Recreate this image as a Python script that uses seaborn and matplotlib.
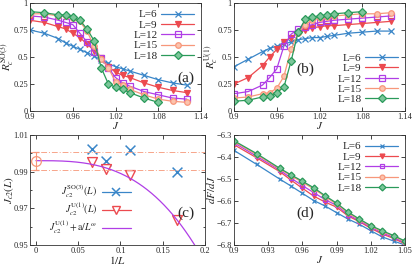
import numpy as np
import pandas as pd
import matplotlib
matplotlib.use("Agg")
import matplotlib.pyplot as plt
from matplotlib.lines import Line2D
from matplotlib.ticker import MultipleLocator
import seaborn as sns

# ---- data ----
J_AB = [0.90, 0.92, 0.94, 0.95, 0.96, 0.97, 0.98, 0.99, 1.00, 1.01, 1.02, 1.03, 1.04, 1.06, 1.08, 1.10, 1.12]

rso3_L6 = [0.75, 0.72, 0.67, 0.63, 0.60, 0.57, 0.54, 0.51, 0.47, 0.44, 0.41, 0.39, 0.37, 0.33, 0.29, 0.26, 0.24]
rso3_L9 = [0.84, 0.82, 0.78, 0.76, 0.72, 0.68, 0.62, 0.56, 0.49, 0.41, 0.36, 0.33, 0.31, 0.26, 0.22, 0.19, 0.17]
rso3_L12 = [0.88, 0.87, 0.84, 0.82, 0.80, 0.72, 0.64, 0.55, 0.49, 0.40, 0.31, 0.26, 0.23, 0.18, 0.15, 0.12, 0.11]
rso3_L15 = [0.90, 0.90, 0.88, 0.88, 0.86, 0.83, 0.74, 0.60, 0.48, 0.40, 0.27, 0.24, 0.20, 0.15, 0.11, 0.09, 0.08]
rso3_L18 = [0.92, 0.91, 0.89, 0.89, 0.87, 0.84, 0.76, 0.65, 0.40, 0.25, 0.22, 0.20, 0.17, 0.12, 0.08]

ru1_L6 = [0.41, 0.48, 0.55, 0.58, 0.60, 0.62, 0.64, 0.66, 0.67, 0.68, 0.68, 0.69, 0.70, 0.72, 0.73, 0.74, 0.74]
ru1_L9 = [0.25, 0.31, 0.42, 0.50, 0.57, 0.64, 0.68, 0.72, 0.75, 0.77, 0.78, 0.79, 0.79, 0.80, 0.81, 0.82, 0.83]
ru1_L12 = [0.16, 0.18, 0.24, 0.31, 0.39, 0.60, 0.71, 0.76, 0.78, 0.80, 0.82, 0.83, 0.84, 0.85, 0.86, 0.87, 0.88]
ru1_L15 = [0.12, 0.13, 0.16, 0.17, 0.21, 0.32, 0.57, 0.72, 0.80, 0.84, 0.86, 0.87, 0.88, 0.89, 0.90, 0.90, 0.91]
ru1_L18 = [0.09, 0.10, 0.13, 0.14, 0.17, 0.22, 0.46, 0.73, 0.85, 0.87, 0.88, 0.89, 0.90, 0.91, 0.92]

inv_L_so3 = [1 / 15, 1 / 12, 1 / 9, 1 / 6]
jc2_so3 = [1.0023, 0.9960, 1.0018, 0.9900]
inv_L_u1 = [1 / 15, 1 / 12, 1 / 9, 1 / 6]
jc2_u1 = [0.9955, 0.9916, 0.9880, 0.9638]
jc2_inf, jc2_inf_err = 0.996, 0.005
fit_a, fit_omega = 6.95, 3.0

J_D = [0.90, 0.92, 0.94, 0.95, 0.96, 0.97, 0.98, 0.99, 1.00, 1.01, 1.02, 1.03, 1.04, 1.05]
dF_L6 = [-6.370, -6.434, -6.500, -6.532, -6.565, -6.598, -6.623, -6.653, -6.682, -6.706, -6.735, -6.763, -6.782, -6.800]
dF_L9 = [-6.344, -6.404, -6.466, -6.505, -6.542, -6.578, -6.605, -6.628, -6.668, -6.694, -6.724, -6.750, -6.770, -6.795]
dF_L12 = [-6.335, -6.397, -6.459, -6.496, -6.530, -6.562, -6.594, -6.620, -6.662, -6.690, -6.719, -6.745, -6.765, -6.790]
dF_L15 = [-6.330, -6.390, -6.455, -6.485, -6.515, -6.545, -6.580, -6.615, -6.655, -6.686, -6.715, -6.740, -6.760, -6.786]
dF_L18 = [-6.326, -6.385, -6.451, -6.481, -6.510, -6.540, -6.576, -6.610, -6.650, -6.682, -6.712, -6.735, -6.757, -6.782]

LABELS = ["L=6", "L=9", "L=12", "L=15", "L=18"]
COLORS = ["#3a86c8", "#ec4a4f", "#b03ee6", "#f7977a", "#2a9a5a"]
MARKERS = ["x", "v", "s", "o", "D"]
FACES = [None, "#ec4a4f", "none", "#fcc3ad", "#7cc69a"]

sns.set_style("ticks")
plt.rcParams['font.family'] = ['Liberation Serif', 'DejaVu Serif']
plt.rcParams['mathtext.fontset'] = 'stix'
plt.rcParams['xtick.direction'] = 'in'
plt.rcParams['ytick.direction'] = 'in'
plt.rcParams['xtick.top'] = True
plt.rcParams['ytick.right'] = True
plt.rcParams['xtick.labelsize'] = 6
plt.rcParams['ytick.labelsize'] = 6
plt.rcParams['axes.linewidth'] = 0.6
plt.rcParams['xtick.major.size'] = 3
plt.rcParams['ytick.major.size'] = 3
plt.rcParams['xtick.minor.size'] = 1.5
plt.rcParams['ytick.minor.size'] = 1.5

W, H = 415, 266
fig = plt.figure(figsize=(W / 100, H / 100), dpi=100)


def px_axes(left, top, right, bottom):
    return fig.add_axes([left / W, 1 - bottom / H, (right - left) / W, (bottom - top) / H])


ax_a = px_axes(30, 3, 201, 111)
ax_b = px_axes(234, 3, 405, 111)
ax_c = px_axes(30, 135, 205, 245)
ax_d = px_axes(234, 135, 405, 245)


def draw_series(ax, x, series, ms=4):
    for lab, ys, c, m, fc in zip(LABELS, series, COLORS, MARKERS, FACES):
        xs = x[:len(ys)]
        kw = dict(markerfacecolor=fc if fc else c, markeredgecolor=c, markeredgewidth=0.9)
        sns.lineplot(x=xs, y=ys, ax=ax, color=c, marker=m, markersize=ms, linewidth=0.9,
                     label=lab, sort=False, **kw)


def style_legend(ax, loc, anchor):
    ax.legend(loc=loc, bbox_to_anchor=anchor, frameon=False, markerfirst=False,
              fontsize=8, handlelength=3.0, labelspacing=0.05, borderaxespad=0.2,
              handletextpad=0.3)


def panel_label(ax, x, y, s):
    ax.text(x, y, s, transform=ax.transAxes, fontsize=11, ha="center", va="center")


def axis_labels(ax, xl, yl, x_top_px, y_right_px=14):
    # place labels in pixel terms, close to the tick labels like the reference
    bb = ax.get_position()
    h_px = bb.height * H
    w_px = bb.width * W
    ax.set_xlabel(xl, fontsize=8)
    ax.xaxis.set_label_coords(0.5, -x_top_px / h_px)
    ax.set_ylabel(yl, fontsize=8)
    ax.yaxis.set_label_coords(-y_right_px / w_px, 0.5)


# (a)
draw_series(ax_a, J_AB, [rso3_L6, rso3_L9, rso3_L12, rso3_L15, rso3_L18])
ax_a.set_xlim(0.9, 1.14)
ax_a.set_ylim(0, 1)
ax_a.set_xticks([0.9, 0.96, 1.02, 1.08, 1.14])
ax_a.set_xticklabels(["0.9", "0.96", "1.02", "1.08", "1.14"])
ax_a.set_yticks([0, 0.25, 0.5, 0.75, 1])
ax_a.set_yticklabels(["0", "0.25", "0.5", "0.75", "1"])
axis_labels(ax_a, r"$J$", r"$R_c^{\rm SO(3)}$", 9)
style_legend(ax_a, "upper right", (1.0, 1.0))
panel_label(ax_a, 0.91, 0.30, "(a)")

# (b)
draw_series(ax_b, J_AB, [ru1_L6, ru1_L9, ru1_L12, ru1_L15, ru1_L18])
ax_b.set_xlim(0.9, 1.14)
ax_b.set_ylim(0, 1)
ax_b.set_xticks([0.9, 0.96, 1.02, 1.08, 1.14])
ax_b.set_xticklabels(["0.9", "0.96", "1.02", "1.08", "1.14"])
ax_b.set_yticks([0, 0.25, 0.5, 0.75, 1])
ax_b.set_yticklabels(["0", "0.25", "0.5", "0.75", "1"])
axis_labels(ax_b, r"$J$", r"$R_c^{\rm U(1)}$", 9)
style_legend(ax_b, "lower right", (1.0, 0.0))
panel_label(ax_b, 0.415, 0.39, "(b)")

# (c)
for yv in (jc2_inf + jc2_inf_err, jc2_inf - jc2_inf_err):
    ax_c.axhline(yv, color="#f7a58a", linestyle="-.", linewidth=0.7, dashes=(6, 2, 1, 2))
x_fit = np.linspace(0, 0.2, 200)
y_fit = jc2_inf - fit_a * x_fit ** fit_omega
sns.lineplot(x=x_fit, y=y_fit, ax=ax_c, color="#b03ee6", linewidth=0.9, sort=False)
sns.scatterplot(x=inv_L_so3, y=jc2_so3, ax=ax_c, marker="x", s=50, color="#3a86c8",
                linewidth=1.1)
sns.scatterplot(x=inv_L_u1, y=jc2_u1, ax=ax_c, marker="v", s=50, facecolor="white",
                edgecolor="#ec4a4f", linewidth=1.0)
ax_c.errorbar([0], [jc2_inf], yerr=[jc2_inf_err], fmt="o", ms=7, mfc="none",
              mec="#f7977a", ecolor="#f7977a", capsize=2, elinewidth=0.8, mew=0.9, clip_on=False)
ax_c.set_xlim(-0.007, 0.2)
ax_c.set_ylim(0.95, 1.01)
ax_c.set_xticks([0, 0.05, 0.1, 0.15, 0.2])
ax_c.set_xticklabels(["0", "0.05", "0.1", "0.15", "0.2"])
ax_c.set_yticks([0.95, 0.97, 0.99, 1.01])
ax_c.yaxis.set_minor_locator(MultipleLocator(0.01))
axis_labels(ax_c, r"$1/L$", r"$J_{c2}(L)$", 9)
handles_c = [
    Line2D([], [], color="#3a86c8", marker="x", markersize=6, mew=1.1, linewidth=0.9),
    Line2D([], [], color="#ec4a4f", marker="v", markersize=6, mfc="white", mew=1.0, linewidth=0.9),
    Line2D([], [], color="#b03ee6", linewidth=0.9),
]
labels_c = [r"$J_{c2}^{\rm SO(3)}(L)$", r"$J_{c2}^{\rm U(1)}(L)$", r"$J_{c2}^{\rm U(1)}+{\rm a}/L^{\omega}$"]
ax_c.legend(handles_c, labels_c, loc="lower left", bbox_to_anchor=(0.06, 0.0), frameon=False,
            markerfirst=False, fontsize=7, handlelength=3.0, labelspacing=0.1, handletextpad=0.4)
panel_label(ax_c, 0.89, 0.29, "(c)")

# (d)
draw_series(ax_d, J_D, [dF_L6, dF_L9, dF_L12, dF_L15, dF_L18], ms=3.5)
ax_d.set_xlim(0.9, 1.05)
ax_d.set_ylim(-6.8, -6.3)
ax_d.set_xticks([0.9, 0.93, 0.96, 0.99, 1.02, 1.05])
ax_d.set_xticklabels(["0.9", "0.93", "0.96", "0.99", "1.02", "1.05"])
ax_d.set_yticks([-6.8, -6.7, -6.6, -6.5, -6.4, -6.3])
axis_labels(ax_d, r"$J$", r"$dF/dJ$", 9, y_right_px=17)
style_legend(ax_d, "upper right", (1.0, 1.0))
panel_label(ax_d, 0.415, 0.29, "(d)")

for ax in (ax_a, ax_b, ax_c, ax_d):
    ax.tick_params(pad=1.5, width=0.6)
    for sp in ax.spines.values():
        sp.set_color("#333333")

fig.savefig("out.png", dpi=100)
